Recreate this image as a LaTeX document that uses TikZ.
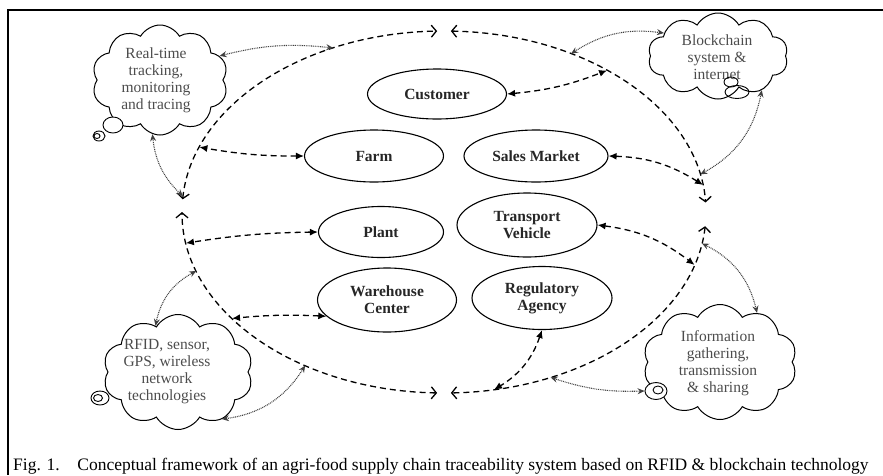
\documentclass[tikz,border=0pt]{standalone}
\usepackage{fontspec}
\setmainfont{Liberation Serif}
\usetikzlibrary{shapes.geometric,shapes.symbols,arrows.meta,calc}
\begin{document}
\begin{tikzpicture}[x=1pt,y=1pt,
 stage/.style={ellipse,draw,line width=1.1pt,inner sep=0pt,font=\fontsize{15.5}{17}\selectfont\bfseries,align=center,text=black!85},
 thought/.style={cloud,draw,line width=1pt,cloud puffs=10,cloud puff arc=120,cloud ignores aspect,inner sep=0pt},
 thoughttext/.style={font=\fontsize{15.5}{17}\selectfont,align=center,text=black!70,inner sep=0pt},
 bubble/.style={ellipse,draw,line width=0.9pt,inner sep=0pt},
 link/.style={line width=1.3pt,dash pattern=on 6pt off 4pt,{Latex[length=8pt,width=7pt]}-{Latex[length=8pt,width=7pt]}},
 ring/.style={line width=1.3pt,dash pattern=on 6pt off 4pt,{Straight Barb[length=5pt,width=12pt]}-{Straight Barb[length=5pt,width=12pt]}},
 info/.style={line width=1.1pt,dash pattern=on 0.9pt off 0.9pt,black!75,{Stealth[length=7pt,width=6pt]}-{Stealth[length=7pt,width=6pt]}},
]
\useasboundingbox (0,0) rectangle (883,-475);
% frame
\draw[line width=1.5pt] (883,-10) -- (8,-10) -- (8,-475);

% ring
\coordinate (O) at (444,-212);
\draw[ring] ($(O)+(176:262 and 181)$) arc[start angle=176,end angle=91.5,x radius=262,y radius=181];
\draw[ring] ($(O)+(88.5:262 and 181)$) arc[start angle=88.5,end angle=3,x radius=262,y radius=181];
\draw[ring] ($(O)+(-4.5:262 and 181)$) arc[start angle=-4.5,end angle=-88.5,x radius=262,y radius=181];
\draw[ring] ($(O)+(-91.5:262 and 181)$) arc[start angle=-91.5,end angle=-180,x radius=262,y radius=181];

% ring points
\coordinate (rCust) at ($(O)+(51.5:262 and 181)$);
\coordinate (rFarm) at ($(O)+(159:262 and 181)$);
\coordinate (rSales) at ($(O)+(8.6:262 and 181)$);
\coordinate (rPlant) at ($(O)+(189.9:262 and 181)$);
\coordinate (rWare) at ($(O)+(216:262 and 181)$);
\coordinate (rTrans) at ($(O)+(-17:262 and 181)$);
\coordinate (rReg) at ($(O)+(-79:262 and 181)$);
\coordinate (qTL1) at ($(O)+(115:262 and 181)$);
\coordinate (qTL2) at ($(O)+(175:262 and 181)$);
\coordinate (qTR1) at ($(O)+(61:262 and 181)$);
\coordinate (qTR2) at ($(O)+(12:262 and 181)$);
\coordinate (qBL1) at ($(O)+(199:262 and 181)$);
\coordinate (qBL2) at ($(O)+(238:262 and 181)$);
\coordinate (qBR1) at ($(O)+(-10:262 and 181)$);
\coordinate (qBR2) at ($(O)+(-66:262 and 181)$);

% stage nodes
\node[stage,minimum width=139pt,minimum height=50pt] (cust) at (437,-94) {Customer};
\node[stage,minimum width=139pt,minimum height=52pt] (farm) at (374,-156) {Farm};
\node[stage,minimum width=144pt,minimum height=52pt] (sales) at (536,-156) {Sales Market};
\node[stage,minimum width=125pt,minimum height=51pt] (plant) at (381,-232) {Plant};
\node[stage,minimum width=140pt,minimum height=64pt] (trans) at (527,-225) {Transport\\Vehicle};
\node[stage,minimum width=139pt,minimum height=64pt] (ware) at (387,-300) {Warehouse\\Center};
\node[stage,minimum width=140pt,minimum height=63pt] (reg) at (542,-298) {Regulatory\\Agency};

% clouds
\node[thought,minimum width=136pt,minimum height=110pt] (tl) at (160,-80) {};
\node[thoughttext] (tlt) at (156,-80) {Real-time\\tracking,\\monitoring\\and tracing};
\node[bubble,fill=white,minimum width=20pt,minimum height=16pt] (tlb1) at (113,-125) {};
\node[bubble,fill=white,minimum width=12pt,minimum height=10pt] (tlb2) at (99,-136) {};
\node[bubble,minimum width=6pt,minimum height=5pt] (tlb3) at (97,-136) {};

\node[thought,minimum width=140pt,minimum height=86pt] (tr) at (718,-56) {};
\node[thoughttext] (trt) at (717,-57) {Blockchain\\system \&\\internet};
\node[bubble,minimum width=24pt,minimum height=13pt] (trb1) at (737,-92) {};
\node[bubble,minimum width=14pt,minimum height=10pt] (trb2) at (731,-82) {};

\node[thought,minimum width=150pt,minimum height=115pt] (bl) at (178,-372) {};
\node[thoughttext] (blt) at (167,-372) {RFID, sensor,\\GPS, wireless\\network\\technologies};
\node[bubble,fill=white,minimum width=18pt,minimum height=14pt] (blb1) at (100,-398) {};
\node[bubble,minimum width=9pt,minimum height=7pt] (blb2) at (98,-398) {};

\node[thought,minimum width=154pt,minimum height=115pt] (br) at (720,-362) {};
\node[thoughttext] (brt) at (718,-363) {Information\\gathering,\\transmission\\\& sharing};
\node[bubble,fill=white,minimum width=22pt,minimum height=17pt] (brb1) at (656,-391) {};
\node[bubble,minimum width=10pt,minimum height=8pt] (brb2) at (658,-390) {};

% dashed links
\draw[link] (cust.east) to[bend right=8] (rCust);
\draw[link] (farm.west) to[bend left=5] (rFarm);
\draw[link] (sales.east) to[bend left=15] (rSales);
\draw[link] (plant.west) to[bend right=4] (rPlant);
\draw[link] (ware.195) to[bend right=4] (rWare);
\draw[link] (trans.east) to[bend left=15] (rTrans);
\draw[link] (reg.south) to[bend left=20] (rReg);

% dotted info links
\draw[info] (tl.22) to[bend left=10] (qTL1);
\draw[info] (tl.-98) to[bend right=20] (qTL2);
\draw[info] (tr.157) to[bend right=20] (qTR1);
\draw[info] (tr.-38) to[bend left=25] (qTR2);
\draw[info] (bl.116) to[bend left=25] (qBL1);
\draw[info] (bl.-47) to[bend right=25] (qBL2);
\draw[info] (br.53) to[bend right=25] (qBR1);
\draw[info] (brb1.west) to[bend left=10] (qBR2);

% caption
\node[anchor=base west,inner sep=0pt,font=\fontsize{17.5}{19}\selectfont] (cap) at (13,-470) {Fig. 1.\quad Conceptual framework of an agri-food supply chain traceability system based on RFID \& blockchain technology};
\end{tikzpicture}
\end{document}
